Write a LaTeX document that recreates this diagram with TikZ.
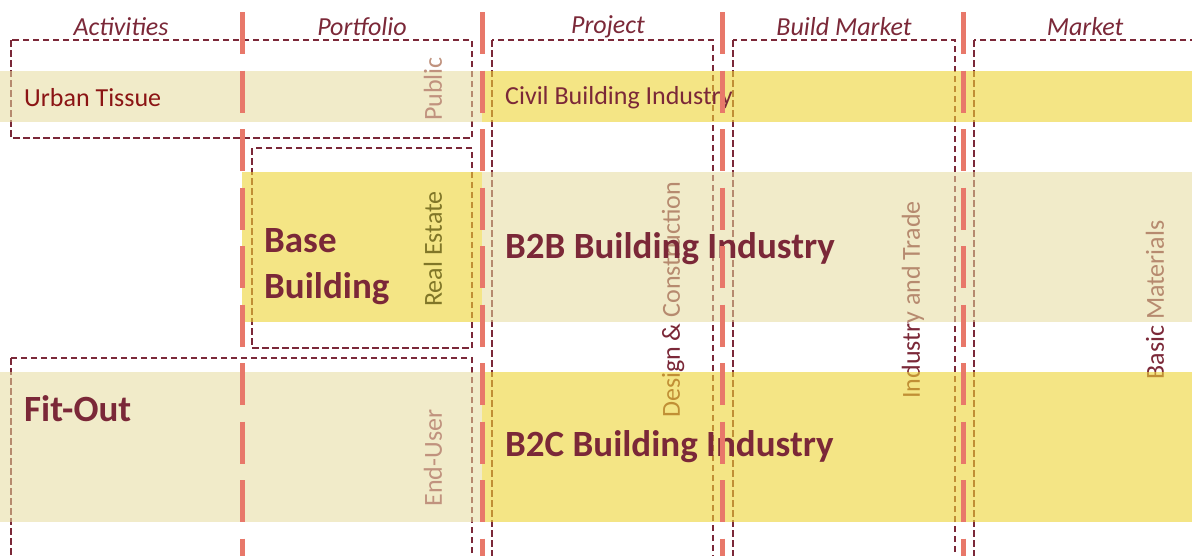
\documentclass[tikz,border=0pt]{standalone}
\usepackage{fontspec}
\setmainfont{Carlito}
\usepackage{xcolor}
\definecolor{wine}{RGB}{123,40,56}
\definecolor{brick}{RGB}{139,20,20}
\definecolor{salmon}{RGB}{232,120,106}
\definecolor{sand}{RGB}{231,219,157}
\definecolor{gold}{RGB}{238,212,52}
\definecolor{dusty}{RGB}{192,146,126}
\definecolor{mossy}{RGB}{128,118,40}

\begin{document}
\begin{tikzpicture}
    [x=1pt,y=-1pt,every node/.style={inner sep=0pt},
     txt/.style={font=\fontsize{26}{30}\selectfont},
     head/.style={font=\itshape\fontsize{26}{30}\selectfont,text=wine},
     bigtxt/.style={font=\bfseries\fontsize{37}{46}\selectfont,text=wine,anchor=west,align=left},
     side/.style={txt,rotate=90},
     box/.style={draw=wine,line width=2.7pt,dash pattern=on 6.5pt off 3.5pt},
     sandband/.style={fill=sand,fill opacity=.55},
     goldband/.style={fill=gold,fill opacity=.6},
     split/.style={draw=salmon,line width=5pt,dash pattern=on 42pt off 16.5pt}]
    \clip (0,0) rectangle (1192,555);
    \fill[white] (0,0) rectangle (1192,555);

    % dashed groups
    \draw[box] (11,40) rectangle (472,138);
    \draw[box] (252,148) rectangle (472,348);
    \draw[box] (11,358) rectangle (472,580);
    \draw[box] (492,40) rectangle (713,580);
    \draw[box] (733,40) rectangle (955,580);
    \draw[box] (974,40) rectangle (1220,580);

    % side labels below the bands
    \node[side,text=wine] (dc) at (673,300) {Design \& Construction};
    \node[side,text=wine] (it) at (913,300) {Industry and Trade};
    \node[side,text=wine] (bm) at (1155,300) {Basic Materials};

    % bands
    \fill[sandband] (0,71) rectangle (482,122);
    \fill[goldband] (482,71) rectangle (1192,122);
    \fill[goldband] (242,172) rectangle (482,322);
    \fill[sandband] (482,172) rectangle (1192,322);
    \fill[sandband] (0,372) rectangle (482,522);
    \fill[goldband] (482,372) rectangle (1192,522);

    % side labels on top
    \node[side,text=dusty] (pub) at (433,89) {Public};
    \node[side,text=mossy] (re) at (433,249) {Real Estate};
    \node[side,text=dusty] (eu) at (433,458) {End-User};

    % texts
    \node[txt,text=brick,anchor=west] (ut) at (24,98) {Urban Tissue};
    \node[txt,text=wine,anchor=west] (cbi) at (505,98) {Civil Building Industry};
    \node[bigtxt] (bb) at (264,267) {Base\\Building};
    \node[bigtxt] (b2b) at (505,249) {B2B Building Industry};
    \node[bigtxt] (fo) at (24,409) {Fit-Out};
    \node[bigtxt] (b2c) at (505,447) {B2C Building Industry};

    % headers
    \foreach \x/\name [count=\i] in {121/Activities,362/Portfolio,608/Project,844/Build Market,1085/Market}
    \node[head] (h\i) at (\x,27) {\name};

    % column splits
    \foreach \x in {242,482,722,963}
    \draw[split] (\x,12) -- (\x,560);
\end{tikzpicture}
\end{document}
